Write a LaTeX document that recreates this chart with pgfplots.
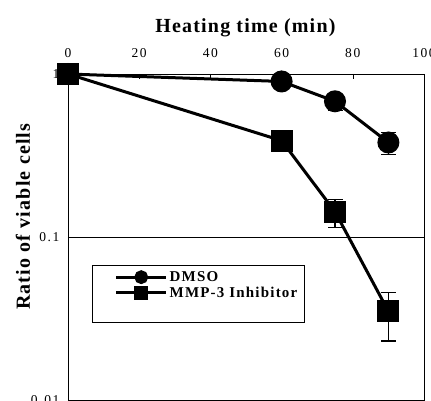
\documentclass[border=0pt]{standalone}
\usepackage{fontspec}
\setmainfont{Liberation Serif}
\newfontfamily\spaced[LetterSpace=12]{Liberation Serif}
\newfontfamily\spacedb[LetterSpace=6,BoldFont={Liberation Serif Bold}]{Liberation Serif}
\newfontfamily\spacedl[LetterSpace=8,BoldFont={Liberation Serif Bold}]{Liberation Serif}
\usepackage{pgfplots}
\pgfplotsset{compat=1.18}
\begin{document}
\begin{tikzpicture}[x=1pt,y=1pt]
\begin{axis}[
  at={(0,0)}, anchor=south west,
  scale only axis, width=356pt, height=326pt,
  xmin=0, xmax=100, ymin=0.01, ymax=1,
  ymode=log,
  xtick={0,20,40,60,80,100},
  xticklabel pos=upper,
  xtick pos=upper,
  ytick={0.01,0.1,1},
  yticklabels={0.01,0.1,1},
  yminorticks=false,
  ymajorgrids, grid style={black, line width=0.6pt},
  major tick length=5pt,
  ytick style={draw=none},
  xtick style={black, line width=0.6pt},
  tick align=inside,
  axis line style={line width=0.8pt},
  every axis plot/.append style={line width=3pt},
  tick label style={font=\fontsize{13.5}{15}\spaced},
  xticklabel style={yshift=13pt},
  yticklabel style={xshift=-5pt},
  /pgf/number format/assume math mode=true,
  xlabel={\textbf{Heating time (min)}},
  xlabel style={font=\fontsize{20}{22}\spacedb, yshift=5pt},
  ylabel={\textbf{Ratio of viable cells}},
  ylabel style={font=\fontsize{20}{22}\spacedb, at={(ticklabel cs:0.564)}, yshift=-6pt},
  legend cell align=left,
  legend style={at={(rel axis cs:0.067,0.414)}, anchor=north west, draw=black, line width=0.8pt,
    font=\fontsize{15}{17}\spacedl\bfseries, row sep=0pt, inner xsep=5pt, inner ysep=4pt},
  legend image code/.code={\draw[mark repeat=2,mark phase=2,#1] plot coordinates {(19pt,0pt)(44pt,0pt)(69pt,0pt)};},
  legend image post style={mark size=5.5pt, line width=2.8pt},
  error bars/y dir=both, error bars/y explicit,
  error bars/error bar style={line width=1.2pt},
  error bars/error mark options={rotate=90, mark size=7.5pt, line width=1.2pt},
  clip=false,
]
\addplot[black, mark=*, mark size=9.5pt] coordinates {
  (0,1)
  (60,0.90) += (0,0.02) -= (0,0.03)
  (75,0.68) += (0,0.03) -= (0,0.08)
  (90,0.38) += (0,0.06) -= (0,0.06)
};
\addlegendentry{DMSO}
\addplot[black, mark=square*, mark size=9.5pt] coordinates {
  (0,1)
  (60,0.39) += (0,0.02) -= (0,0.03)
  (75,0.143) += (0,0.026) -= (0,0.029)
  (90,0.035) += (0,0.0105) -= (0,0.012)
};
\addlegendentry{MMP-3 Inhibitor}
\addlegendimage{empty legend}
\addlegendentry{\strut}
\end{axis}
\pgfresetboundingbox
\path[use as bounding box] (-68pt,-1pt) rectangle (363pt,400pt);
\end{tikzpicture}
\end{document}
